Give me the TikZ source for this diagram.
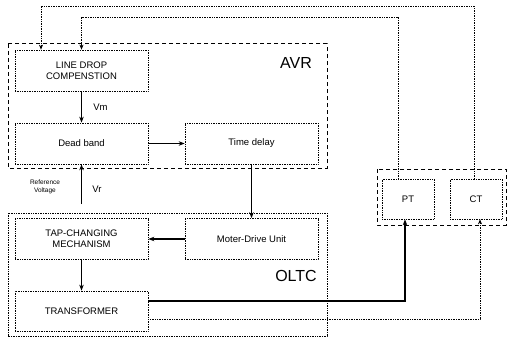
\documentclass[tikz,border=0pt]{standalone}
\usepackage{fontspec}
\setmainfont{Liberation Sans}
\usetikzlibrary{arrows.meta}
\begin{document}
\begin{tikzpicture}[x=1pt,y=-1pt,
  blk/.style={draw=black,line width=0.7pt,densely dotted,minimum width=133pt,minimum height=41pt,
    align=center,font=\fontsize{9.5}{11}\selectfont,inner sep=0pt},
  sens/.style={draw=black,line width=0.7pt,densely dotted,minimum width=52pt,minimum height=40pt,
    font=\fontsize{9.5}{11}\selectfont,inner sep=0pt},
  grp/.style={line width=1pt,dash pattern=on 4pt off 3pt},
  frame/.style={line width=0.7pt,densely dotted},
  flow/.style={line width=1.1pt,-{Stealth[length=6pt,width=4.5pt]}},
  fb/.style={line width=0.7pt,densely dotted,-{Stealth[length=5pt,width=4pt]}},
  big/.style={font=\fontsize{16}{18}\selectfont}]
\useasboundingbox (0,0) rectangle (508,337);
\fill[white] (0,0) rectangle (508,337);

% group frames
\draw[grp] (8,44) rectangle (327,168);
\draw[frame] (8,213) rectangle (327,336);
\draw[grp] (377,169) rectangle (506,225);
\node[big] (avr) at (296,63) {AVR};
\node[big] (oltc) at (296,276) {OLTC};

% blocks
\node[blk] (ldc) at (81.5,70.5) {LINE DROP\\COMPENSTION};
\node[blk] (db) at (81.5,143.5) {Dead band};
\node[blk] (td) at (251.5,143.5) {Time delay};
\node[blk] (tcm) at (81.5,239) {TAP-CHANGING\\MECHANISM};
\node[blk] (mdu) at (251.5,239) {Moter-Drive Unit};
\node[blk,minimum height=40pt] (tr) at (81.5,311) {TRANSFORMER};
\node[sens] (pt) at (408,199) {PT};
\node[sens] (ct) at (476,199) {CT};

% main signal path
\draw[flow] (ldc) -- node[right=8pt,font=\fontsize{9.5}{11}\selectfont] {Vm} (db);
\draw[flow] (db) -- (td);
\draw[flow] (td.south) -- (mdu.north);
\draw[flow] (mdu) -- (tcm);
\draw[flow] (tcm) -- (tr);

% reference input
\coordinate (vref) at (81.5,204);
\draw[flow] (vref) -- (db.south);
\node[font=\fontsize{9.5}{11}\selectfont] (vr) at (97,189) {Vr};
\node[font=\fontsize{6.5}{8}\selectfont,align=center] (rv) at (45,187) {Reference\\Voltage};

% measurement lines from the transformer
\draw[line width=1.1pt,-{Stealth[length=6pt,width=4.5pt]}] (tr.east |- 0,301) -| (pt.south -| 405,0);
\draw[fb] (tr.east |- 0,319) -| (ct.south -| 480,0);

% feedback to line drop compensation
\draw[fb] (ct.north -| 474,0) |- (41,6) -- (ldc.north -| 41,0);
\draw[fb] (pt.north -| 398,0) |- (81.5,17) -- (ldc.north);
\end{tikzpicture}
\end{document}
